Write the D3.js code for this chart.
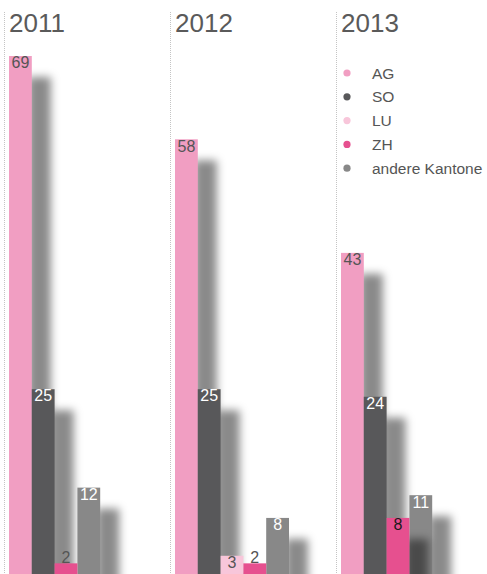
<!DOCTYPE html>
<html>
<head>
<meta charset="utf-8">
<script src="https://cdn.jsdelivr.net/npm/d3@7"></script>
<style>
  html, body { margin: 0; padding: 0; background: #fff; }
  svg { display: block; font-family: "Liberation Sans", Arial, sans-serif; }
</style>
</head>
<body>
<svg id="chart" width="487" height="574"></svg>
<script>
// Herkunft nach Kanton, pro Jahr
const years = ["2011", "2012", "2013"];
const categories = ["AG", "SO", "LU", "ZH", "andere Kantone"];
const colors = ["#f19ec2", "#58585a", "#f8c6da", "#e6508f", "#888888"];
const labelColors = ["#555555", "#ffffff", "#555555", "#1a1a1a", "#ffffff"];
const values2011 = [69, 25, null, 2, 12];
const values2012 = [58, 25, 3, 2, 8];
const values2013 = [43, 24, null, 8, 11];
const valuesByYear = [values2011, values2012, values2013];

const svg = d3.select("#chart");
const W = 487, H = 574;

const panelX = d3.scaleBand().domain(years).range([4, 4 + 3 * 166]).paddingInner(0).paddingOuter(0);
const y = d3.scaleLinear().domain([0, 69]).range([578.5, 56]);
const barW = 22.8;
const shadowDx = 19, shadowDy = 21;

const defs = svg.append("defs");
defs.append("filter")
  .attr("id", "soft")
  .attr("filterUnits", "userSpaceOnUse")
  .attr("x", 0).attr("y", 0).attr("width", W).attr("height", H + 40)
  .append("feGaussianBlur").attr("stdDeviation", 4.3);

years.forEach((yr, yi) => {
  const px = panelX(yr);
  const g = svg.append("g").attr("transform", `translate(${px},0)`);

  // panel separator
  g.append("line")
    .attr("x1", 0.5).attr("x2", 0.5)
    .attr("y1", 12).attr("y2", H)
    .attr("stroke", "#c4c4c4")
    .attr("stroke-width", 1)
    .attr("stroke-dasharray", "1,1");

  g.append("text")
    .attr("x", 5).attr("y", 32)
    .attr("font-size", 26)
    .attr("fill", "#5a5a5a")
    .text(yr);

  const vals = valuesByYear[yi];
  const rows = categories
    .map((c, i) => ({ cat: c, i, v: vals[i] }))
    .filter(d => d.v != null);

  const x = d3.scaleBand()
    .domain(rows.map(d => d.cat))
    .range([5, 5 + rows.length * barW]);

  // larger values are drawn first so later bars sit on top of their shadows
  const order = rows.slice().sort((a, b) => b.v - a.v);

  order.forEach(d => {
    const bx = x(d.cat), by = y(d.v), bh = y(0) - y(d.v);
    g.append("rect")
      .attr("x", bx + shadowDx).attr("y", by + shadowDy)
      .attr("width", x.bandwidth()).attr("height", bh + 30)
      .attr("fill", "#000").attr("fill-opacity", 0.46)
      .attr("filter", "url(#soft)");
    g.append("rect")
      .attr("x", bx).attr("y", by)
      .attr("width", x.bandwidth()).attr("height", bh)
      .attr("fill", colors[d.i]);
  });

  rows.forEach(d => {
    const bx = x(d.cat), by = y(d.v), bh = y(0) - y(d.v);
    const inside = bh >= 19;
    g.append("text")
      .attr("x", bx + x.bandwidth() / 2)
      .attr("y", inside ? by + 12.3 : by - 0.5)
      .attr("text-anchor", "middle")
      .attr("font-size", 16)
      .attr("fill", inside ? labelColors[d.i] : "#555555")
      .text(d.v);
  });
});

// legend
const legend = svg.append("g").attr("transform", "translate(347,73)");
const ly = d3.scalePoint().domain(categories).range([0, 4 * 23.8]);
categories.forEach((c, i) => {
  legend.append("circle")
    .attr("cx", 0).attr("cy", ly(c)).attr("r", 3.6)
    .attr("fill", colors[i]);
  legend.append("text")
    .attr("x", 25).attr("y", ly(c))
    .attr("dy", "0.36em")
    .attr("font-size", 15.5)
    .attr("fill", "#555555")
    .text(c);
});
</script>
</body>
</html>
